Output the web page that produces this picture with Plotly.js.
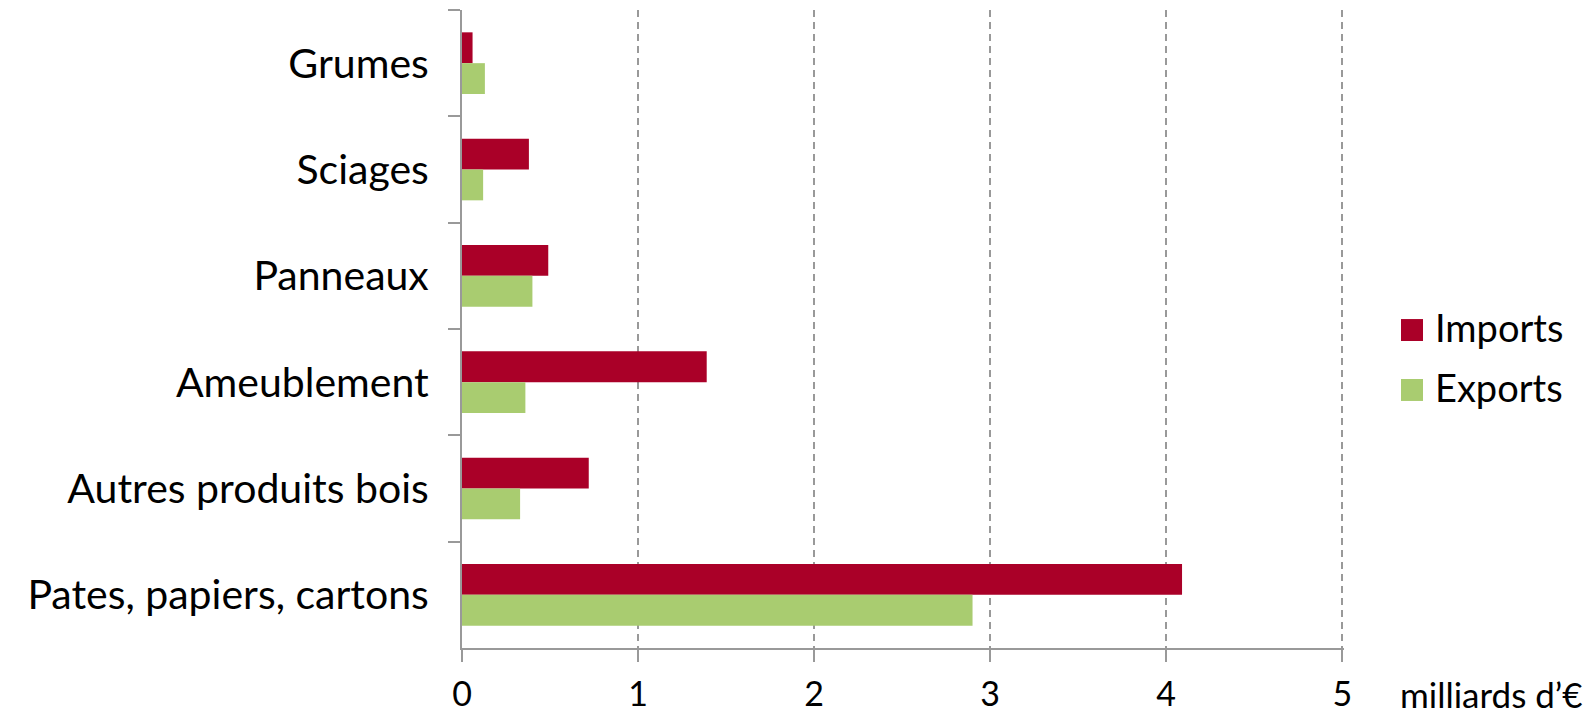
<!DOCTYPE html>
<html>
<head>
<meta charset="utf-8">
<script src="https://cdn.plot.ly/plotly-3.0.1.min.js"></script>
<style>html,body{margin:0;padding:0;background:#fff;}#chart{width:1592px;height:715px;}</style>
</head>
<body>
<div id="chart"></div>
<script>
const categories = ["Grumes", "Sciages", "Panneaux", "Ameublement", "Autres produits bois", "Pates, papiers, cartons"];
const imports = [0.06, 0.38, 0.49, 1.39, 0.72, 4.09];
const exports = [0.13, 0.12, 0.40, 0.36, 0.33, 2.90];
const seriesNames = ["Imports", "Exports"];
const seriesColors = ["#AA0028", "#A9CC70"];
const xTicks = [0, 1, 2, 3, 4, 5];
const unitLabel = "milliards d’€";

const FONT = "Lato, 'DejaVu Sans', sans-serif";

const traces = [
  {type: "bar", orientation: "h", name: seriesNames[0], y: categories, x: imports,
   marker: {color: seriesColors[0]}, showlegend: false},
  {type: "bar", orientation: "h", name: seriesNames[1], y: categories, x: exports,
   marker: {color: seriesColors[1]}, showlegend: false}
];

// plot area: x 462..1344 (882 px), y 10..648 (638 px)
const PW = 882, PX0 = 462;
const px = v => (v - PX0) / PW;
const legendRowsY = [0.4984, 0.4044];
const swatchHalf = 0.0172;
const shapes = seriesNames.map((n, i) => ({
  type: "rect", xref: "paper", yref: "paper",
  x0: px(1401), x1: px(1423), y0: legendRowsY[i] - swatchHalf, y1: legendRowsY[i] + swatchHalf,
  fillcolor: seriesColors[i], line: {width: 0}
}));
const legendLabels = seriesNames.map((n, i) => ({
  text: n, xref: "paper", yref: "paper", x: px(1433), y: legendRowsY[i] + 0.004,
  xanchor: "left", yanchor: "middle", showarrow: false,
  font: {size: 38, family: FONT, color: "#000"}
}));

const layout = {
  width: 1592, height: 715,
  margin: {l: 462, r: 248, t: 10, b: 67},
  paper_bgcolor: "#fff", plot_bgcolor: "#fff",
  barmode: "group", bargap: 0.42, bargroupgap: 0,
  font: {family: FONT, color: "#000"},
  showlegend: false,
  xaxis: {range: [0, 5.01], tickvals: xTicks, ticktext: xTicks.map(String),
          showgrid: true, gridcolor: "#999", griddash: "7px,5px", gridwidth: 2,
          zeroline: false, showline: true, linecolor: "#999", linewidth: 2,
          ticks: "outside", ticklen: 12, tickcolor: "#999", tickwidth: 2,
          ticklabelstandoff: 3,
          tickfont: {size: 34, family: FONT, color: "#000"}, fixedrange: true},
  yaxis: {type: "category", autorange: "reversed", tickson: "boundaries",
          showgrid: false, zeroline: false, showline: true, linecolor: "#999", linewidth: 2,
          ticks: "outside", ticklen: 12, tickcolor: "#999", tickwidth: 2,
          ticklabelstandoff: 23,
          tickfont: {size: 41, family: FONT, color: "#000"}, fixedrange: true},
  shapes: shapes,
  annotations: [
    {text: unitLabel, xref: "paper", yref: "paper", x: px(1398), y: -0.072,
     xanchor: "left", yanchor: "middle", showarrow: false,
     font: {size: 35, family: FONT, color: "#000"}}
  ].concat(legendLabels)
};

Plotly.newPlot("chart", traces, layout, {displayModeBar: false, staticPlot: true});
</script>
</body>
</html>
